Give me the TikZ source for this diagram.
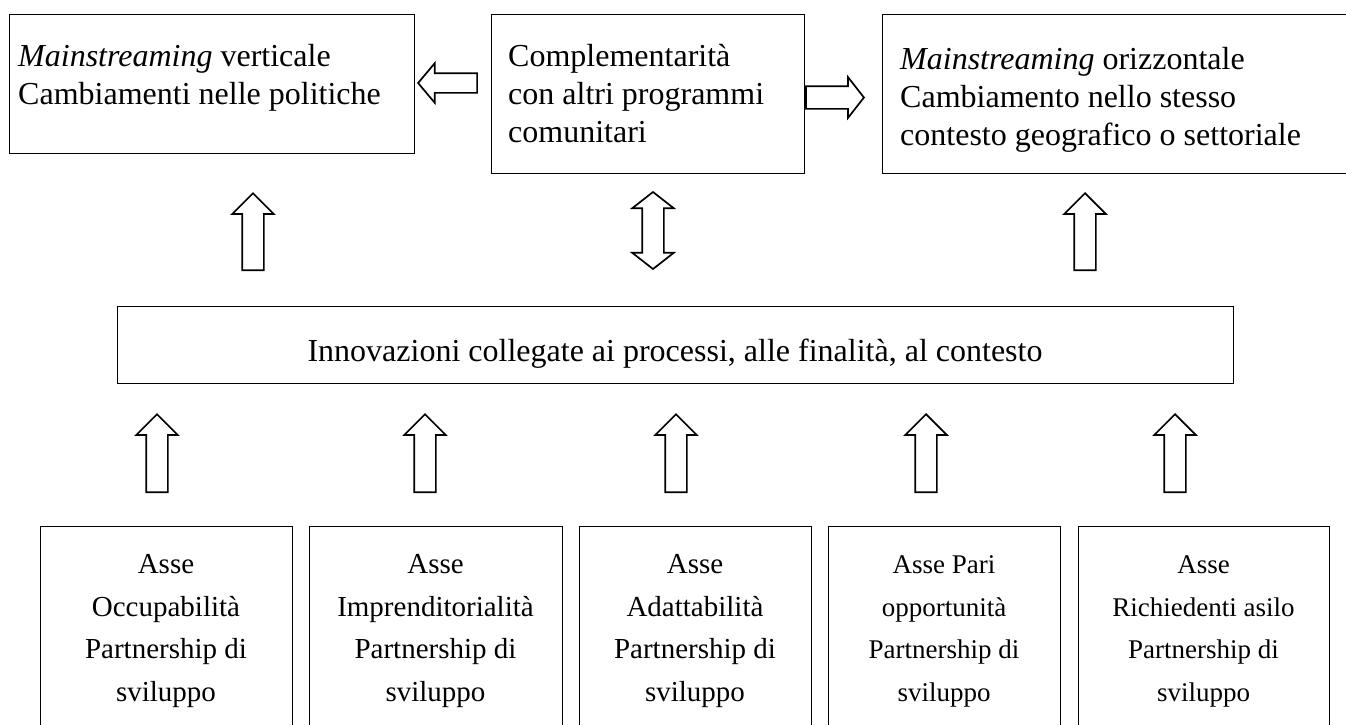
\documentclass[tikz,border=0pt]{standalone}
\usepackage{fontspec}
\setmainfont{Liberation Serif}
\usetikzlibrary{shapes.arrows}

\begin{document}
\begin{tikzpicture}[x=1pt,y=-1pt]
  \tikzset{box/.style = {draw, line width=.9pt, inner sep=0pt},
           txt/.style = {inner sep=0pt, align=left, anchor=base west, font=\fontsize{32}{38}\selectfont},
           asse/.style = {inner sep=0pt, align=center, anchor=base, font=\fontsize{29}{42.5}\selectfont},
           arr/.style = {draw, line width=1.7pt, inner sep=10pt, single arrow, single arrow head extend=10pt, minimum width=40pt},
           up/.style = {arr, shape border rotate=90, single arrow tip angle=90, minimum height=78pt, anchor=tip}}
  \useasboundingbox (0,0) rectangle (1346,724);
  % top row
  \node[box, anchor=north west, minimum width=405pt, minimum height=139pt] (VE) at (9,14) {};
  \node[box, anchor=north west, minimum width=313pt, minimum height=159pt] (CO) at (491,14) {};
  \node[box, anchor=north west, minimum width=468pt, minimum height=159pt] (OR) at (882,14) {};
  \node[txt] (VEt) at (18,104) {\textit{Mainstreaming} verticale\\Cambiamenti nelle politiche};
  \node[txt] (COt) at (508,142) {Complementarità\\con altri programmi\\comunitari};
  \node[txt] (ORt) at (900,145) {\textit{Mainstreaming} orizzontale\\Cambiamento nello stesso\\contesto geografico o settoriale};
  \node[arr, shape border rotate=180, single arrow tip angle=100, inner sep=9pt, minimum width=38pt, minimum height=59pt, anchor=tip] (COVE) at (417,83) {};
  \node[arr, single arrow tip angle=104, inner sep=10.5pt, single arrow head extend=9pt, minimum width=39pt, minimum height=58pt, anchor=tip] (COOR) at (865,97.5) {};
  \node[up, minimum height=77pt] (VEup) at (253,192) {};
  \node[draw, line width=1.7pt, inner sep=10pt, double arrow, shape border rotate=90, double arrow tip angle=104,
        double arrow head extend=10pt, minimum width=40pt, minimum height=77pt] (COud) at (653,230.5) {};
  \node[up, minimum height=77pt] (ORup) at (1085,192) {};
  % innovazioni
  \node[box, minimum width=1116pt, minimum height=77pt] (IN) at (675,344.5) {};
  \node[txt, anchor=base] (INt) at (675,361) {Innovazioni collegate ai processi, alle finalità, al contesto};
  \node[up] (up1) at (157,413) {};
  \node[up] (up2) at (425,413) {};
  \node[up] (up3) at (676,413) {};
  \node[up] (up4) at (926,413) {};
  \node[up] (up5) at (1175,413) {};
  % assi
  \node[box, anchor=north, minimum width=252pt, minimum height=215pt] (A1) at (166,526) {};
  \node[box, anchor=north, minimum width=253pt, minimum height=215pt] (A2) at (435.5,526) {};
  \node[box, anchor=north, minimum width=232pt, minimum height=215pt] (A3) at (695,526) {};
  \node[box, anchor=north, minimum width=232pt, minimum height=215pt] (A4) at (944,526) {};
  \node[box, anchor=north, minimum width=251pt, minimum height=215pt] (A5) at (1203.5,526) {};
  \node[asse] (A1t) at (166,701) {Asse\\Occupabilità\\Partnership di\\sviluppo};
  \node[asse] (A2t) at (435.5,701) {Asse\\Imprenditorialità\\Partnership di\\sviluppo};
  \node[asse] (A3t) at (695,701) {Asse\\Adattabilità\\Partnership di\\sviluppo};
  \node[asse, font=\fontsize{27}{42.5}\selectfont] (A4t) at (944,701) {Asse Pari\\opportunità\\Partnership di\\sviluppo};
  \node[asse, font=\fontsize{27}{42.5}\selectfont] (A5t) at (1203.5,701) {Asse\\Richiedenti asilo\\Partnership di\\sviluppo};
\end{tikzpicture}
\end{document}
